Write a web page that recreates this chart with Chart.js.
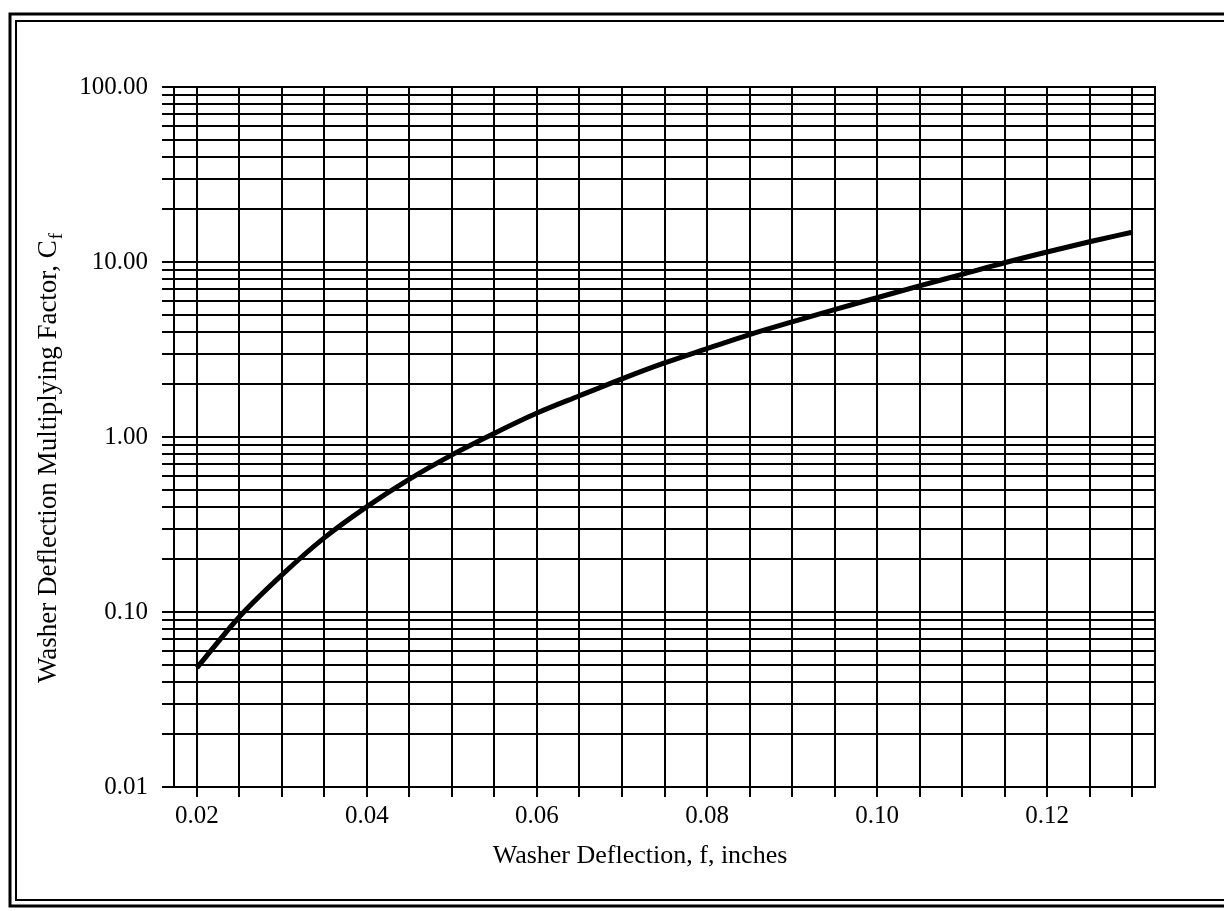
<!DOCTYPE html>
<html><head><meta charset="utf-8">
<script src="https://cdn.jsdelivr.net/npm/chart.js@4.4.0/dist/chart.umd.min.js"></script>
<style>html,body{margin:0;padding:0;background:#fff;overflow:hidden}#wrap{width:1224px;height:911px;position:relative}</style>
</head><body><div id="wrap"><canvas id="c" width="1224" height="911"></canvas></div>
<script>
// ---- data ----
const deflection = [0.020,0.025,0.030,0.035,0.040,0.045,0.050,0.055,0.060,0.065,0.070,0.075,0.080,0.085,0.090,0.095,0.100,0.105,0.110,0.115,0.120,0.125,0.130];
const multiplyingFactor = [0.048,0.094,0.163,0.266,0.40,0.574,0.79,1.05,1.37,1.72,2.15,2.65,3.2,3.85,4.55,5.35,6.25,7.3,8.5,9.9,11.4,13.05,14.8];
const xGridValues = [0.020,0.025,0.030,0.035,0.040,0.045,0.050,0.055,0.060,0.065,0.070,0.075,0.080,0.085,0.090,0.095,0.100,0.105,0.110,0.115,0.120,0.125,0.130];
const xLabelValues = [0.02,0.04,0.06,0.08,0.10,0.12];
const yGridValues = [0.01,0.02,0.03,0.04,0.05,0.06,0.07,0.08,0.09,0.1,0.2,0.3,0.4,0.5,0.6,0.7,0.8,0.9,1,2,3,4,5,6,7,8,9,10,20,30,40,50,60,70,80,90,100];
const yLabelValues = [0.01,0.1,1,10,100];
const xTitle = 'Washer Deflection, f, inches';
const yTitleMain = 'Washer Deflection Multiplying Factor, C';
const yTitleSub = 'f';
const xMin = 0.0173, xMax = 0.1327;

const FONT = '"Liberation Serif", "Times New Roman", serif';

const decor = {
  id: 'decor',
  afterDraw(chart) {
    const ctx = chart.ctx, a = chart.chartArea;
    ctx.save();
    ctx.strokeStyle = '#000';
    ctx.lineWidth = 2;
    ctx.strokeRect(a.left, a.top, a.right - a.left, a.bottom - a.top);
    ctx.lineWidth = 3;
    ctx.beginPath();
    ctx.moveTo(1230, 14); ctx.lineTo(10, 14); ctx.lineTo(10, 906); ctx.lineTo(1230, 906);
    ctx.stroke();
    ctx.lineWidth = 2;
    ctx.beginPath();
    ctx.moveTo(1230, 21); ctx.lineTo(16, 21); ctx.lineTo(16, 900); ctx.lineTo(1230, 900);
    ctx.stroke();
    ctx.fillStyle = '#000';
    ctx.font = '26px ' + FONT;
    ctx.textAlign = 'center';
    ctx.textBaseline = 'middle';
    ctx.fillText(xTitle, 640, 856);
    ctx.translate(49, 458);
    ctx.rotate(-Math.PI / 2);
    ctx.font = '27px ' + FONT;
    const wm = ctx.measureText(yTitleMain).width;
    ctx.font = '19px ' + FONT;
    const ws = ctx.measureText(yTitleSub).width;
    const total = wm + ws + 1;
    ctx.textAlign = 'left';
    ctx.font = '27px ' + FONT;
    ctx.fillText(yTitleMain, -total / 2, 0);
    ctx.font = '19px ' + FONT;
    ctx.fillText(yTitleSub, -total / 2 + wm + 1, 8);
    ctx.restore();
  }
};

new Chart(document.getElementById('c'), {
  type: 'line',
  data: {
    datasets: [{
      data: deflection.map((x, i) => ({x: x, y: multiplyingFactor[i]})),
      borderColor: '#000',
      borderWidth: 5,
      pointRadius: 0,
      cubicInterpolationMode: 'monotone',
      fill: false
    }]
  },
  options: {
    responsive: false,
    animation: false,
    devicePixelRatio: 1,
    layout: {padding: {left: 0, top: 87, right: 69, bottom: 0}},
    plugins: {legend: {display: false}, tooltip: {enabled: false}, title: {display: false}},
    scales: {
      x: {
        type: 'linear',
        min: xMin, max: xMax,
        afterFit: s => { s.height = 124; },
        afterBuildTicks: s => { s.ticks = xGridValues.map(v => ({value: v})); },
        grid: {color: '#000', lineWidth: 2, tickLength: 10, tickColor: '#000', tickWidth: 2},
        border: {display: true, color: '#000', width: 2},
        ticks: {
          autoSkip: false, maxRotation: 0, padding: 4, color: '#000',
          font: {family: FONT, size: 25},
          callback: v => xLabelValues.some(l => Math.abs(l - v) < 1e-9) ? v.toFixed(2) : ''
        }
      },
      y: {
        type: 'logarithmic',
        min: 0.01, max: 100,
        afterFit: s => { s.width = 174; },
        afterBuildTicks: s => { s.ticks = yGridValues.map(v => ({value: v})); },
        grid: {color: '#000', lineWidth: 2, tickLength: 12, tickColor: '#000', tickWidth: 2},
        border: {display: true, color: '#000', width: 2},
        ticks: {
          autoSkip: false, padding: 14, color: '#000',
          font: {family: FONT, size: 25},
          callback: v => yLabelValues.some(l => Math.abs(l - v) / l < 1e-9) ? Number(v).toFixed(2) : ''
        }
      }
    }
  },
  plugins: [decor]
});
</script>
</body></html>
